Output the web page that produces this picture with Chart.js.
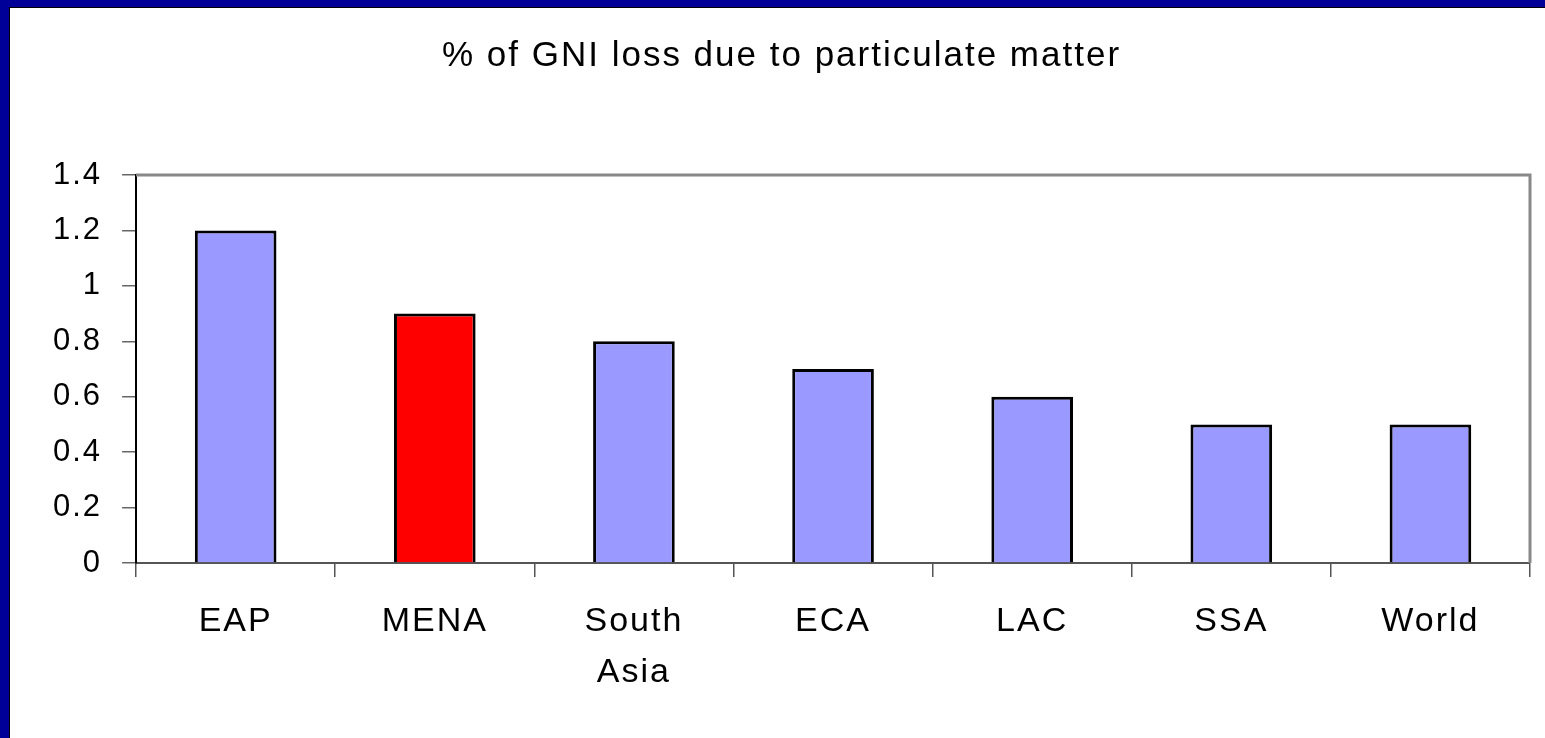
<!DOCTYPE html>
<html>
<head>
<meta charset="utf-8">
<script src="https://cdn.jsdelivr.net/npm/chart.js@4.4.1/dist/chart.umd.min.js"></script>
<style>
  html, body { margin: 0; padding: 0; background: #fff; }
  #frame {
    position: absolute; left: 0; top: 0; width: 1545px; height: 738px;
    box-sizing: border-box; border-left: 9px solid #000099; border-top: 7px solid #000099;
  }
  #inner {
    position: absolute; left: 0; top: 0; right: 0; bottom: 0;
    border-left: 1px solid #000; border-top: 1px solid #000;
  }
  #wrap { position: absolute; left: 1px; top: 1px; right: 0; bottom: 0; }
</style>
</head>
<body>
<div id="frame"><div id="inner"><div id="wrap"><canvas id="gniChart"></canvas></div></div></div>
<script>
  const regions = [['EAP'], ['MENA'], ['South', 'Asia'], ['ECA'], ['LAC'], ['SSA'], ['World']];
  const gniLoss = [1.2, 0.9, 0.8, 0.7, 0.6, 0.5, 0.5];
  const barColors = ['#9999FF', '#FF0000', '#9999FF', '#9999FF', '#9999FF', '#9999FF', '#9999FF'];
  const yTicks = [0, 0.2, 0.4, 0.6, 0.8, 1, 1.2, 1.4];

  // the original text is set a bit loose
  const spacing = {
    id: 'spacing',
    beforeUpdate(chart) { chart.ctx.letterSpacing = '2px'; },
    beforeLayout(chart) { chart.ctx.letterSpacing = '2px'; },
    beforeDraw(chart) { chart.ctx.letterSpacing = '2px'; }
  };

  // gray frame on top and right of the plot area
  const plotFrame = {
    id: 'plotFrame',
    afterDraw(chart) {
      const a = chart.chartArea;
      const c = chart.ctx;
      c.save();
      c.strokeStyle = '#888888';
      c.lineWidth = 3;
      c.beginPath();
      c.moveTo(a.left, a.top);
      c.lineTo(a.right, a.top);
      c.lineTo(a.right, a.bottom);
      c.stroke();
      c.restore();
    }
  };

  const ctx = document.getElementById('gniChart');

  new Chart(ctx, {
    type: 'bar',
    data: {
      labels: regions,
      datasets: [{
        data: gniLoss,
        backgroundColor: barColors,
        borderColor: '#000000',
        borderWidth: 3,
        categoryPercentage: 0.82,
        barPercentage: 0.5
      }]
    },
    options: {
      responsive: true,
      maintainAspectRatio: false,
      animation: false,
      layout: {
        padding: { left: 22, right: 15, top: 0, bottom: 21 }
      },
      plugins: {
        legend: { display: false },
        tooltip: { enabled: false },
        title: {
          display: true,
          text: '% of GNI loss due to particulate matter',
          color: '#000000',
          font: { family: 'Liberation Sans', size: 35, weight: 'normal' },
          padding: { top: 26, bottom: 98 }
        }
      },
      scales: {
        x: {
          grid: {
            offset: true,
            drawOnChartArea: false,
            color: '#555555',
            tickLength: 14,
            lineWidth: 1.5
          },
          border: { color: '#555555', width: 2 },
          ticks: {
            color: '#000000',
            padding: 19,
            font: { family: 'Liberation Sans', size: 34, lineHeight: 1.5 }
          }
        },
        y: {
          min: 0,
          max: 1.4,
          afterBuildTicks(axis) {
            axis.ticks = yTicks.map(v => ({ value: v }));
          },
          grid: {
            drawOnChartArea: false,
            color: '#666666',
            tickLength: 14,
            lineWidth: 1.5
          },
          border: { color: '#000000', width: 2 },
          ticks: {
            color: '#000000',
            padding: 20,
            font: { family: 'Liberation Sans', size: 31 },
            callback: v => String(v)
          }
        }
      }
    },
    plugins: [spacing, plotFrame]
  });
</script>
</body>
</html>
